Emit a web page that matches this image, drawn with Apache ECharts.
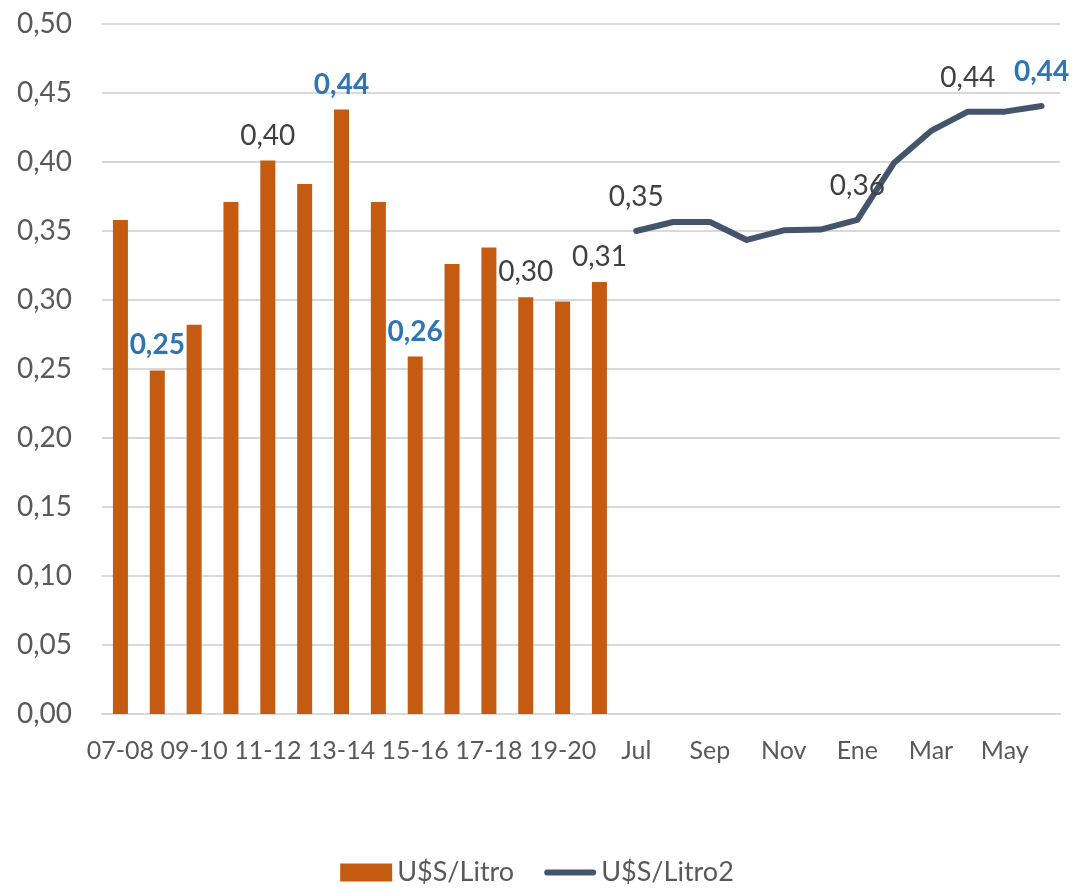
<!DOCTYPE html>
<html>
<head>
<meta charset="utf-8">
<script src="https://cdn.jsdelivr.net/npm/echarts@6/dist/echarts.min.js"></script>
<style>
html,body{margin:0;padding:0;background:#fff;}
#chart{width:1074px;height:892px;}
</style>
</head>
<body>
<div id="chart"></div>
<script>
// Categories: seasons then months
const seasons = ['07-08','08-09','09-10','10-11','11-12','12-13','13-14','14-15','15-16','16-17','17-18','18-19','19-20','20-21'];
const months = ['Jul','Ago','Sep','Oct','Nov','Dic','Ene','Feb','Mar','Abr','May','Jun'];
const categories = seasons.concat(months);

// U$S/Litro (seasonal bars)
const barValues = [0.358,0.249,0.282,0.371,0.401,0.384,0.438,0.371,0.259,0.326,0.338,0.302,0.299,0.313];
// U$S/Litro2 (monthly line)
const lineValues = [0.350,0.3565,0.3565,0.3435,0.3505,0.351,0.358,0.3995,0.4225,0.4365,0.4365,0.4406];

// labelled points: index -> style ('n' normal, 'b' bold blue)
const barLabels = {1:'b',4:'n',6:'b',8:'b',11:'n',13:'n'};
const lineLabels = {0:'n',6:'n',9:'n',11:'b'};

const FONT = 'Lato';
const LABEL_SIZE = 28;
const fmt = v => v.toFixed(2).replace('.', ',');
const styleFor = t => t === 'b'
  ? {color:'#2E75B6', fontWeight:'bold'}
  : {color:'#404040', fontWeight:'normal'};

const barData = categories.map((c,i) => {
  if (i >= barValues.length) return null;
  const v = barValues[i];
  const t = barLabels[i];
  if (!t) return v;
  return {value:v, label:Object.assign({show:true, position:'top', distance:11, fontSize:LABEL_SIZE, fontFamily:FONT, formatter:p=>fmt(p.value)}, styleFor(t))};
});
const lineData = categories.map((c,i) => {
  const j = i - seasons.length;
  if (j < 0) return null;
  const v = lineValues[j];
  const t = lineLabels[j];
  if (!t) return v;
  return {value:v, label:Object.assign({show:true, position:'top', distance:20, fontSize:LABEL_SIZE, fontFamily:FONT, formatter:p=>fmt(p.value)}, styleFor(t))};
});

const lineIcon = 'path://M0,0L0.01,0L0,0.01Z M3,6 L49,6 A3,3 0 0 1 49,12 L3,12 A3,3 0 0 1 3,6 Z M0,18L0.01,18L0,17.99Z';

const chart = echarts.init(document.getElementById('chart'), null, {renderer:'canvas'});
chart.setOption({
  animation:false,
  backgroundColor:'#fff',
  textStyle:{fontFamily:FONT},
  grid:{left:102, right:14, top:24, bottom:178, containLabel:false},
  legend:{
    bottom:1, left:'center',
    itemWidth:52, itemHeight:18, itemGap:30,
    textStyle:{fontSize:27, color:'#595959', fontFamily:FONT},
    data:[{name:'U$S/Litro', icon:'rect'}, {name:'U$S/Litro2', icon:lineIcon, itemStyle:{color:'#44546A'}}]
  },
  xAxis:{
    type:'category', data:categories,
    axisLine:{lineStyle:{color:'#D9D9D9', width:2}},
    axisTick:{show:false},
    axisLabel:{interval:1, color:'#595959', fontSize:25, fontFamily:FONT, margin:24}
  },
  yAxis:{
    type:'value', min:0, max:0.5, interval:0.05,
    axisLine:{show:false}, axisTick:{show:false},
    splitLine:{lineStyle:{color:'#D9D9D9', width:2}},
    axisLabel:{color:'#595959', fontSize:28, fontFamily:FONT, margin:30, formatter:v=>fmt(v)}
  },
  series:[
    {name:'U$S/Litro', type:'bar', data:barData, barWidth:15,
     itemStyle:{color:'#C55A11'}},
    {name:'U$S/Litro2', type:'line', data:lineData, symbol:'circle', symbolSize:0.01, showSymbol:true,
     smooth:false, connectNulls:false,
     lineStyle:{color:'#44546A', width:6, cap:'round', join:'round'},
     itemStyle:{color:'#44546A'}}
  ]
});
</script>
</body>
</html>
